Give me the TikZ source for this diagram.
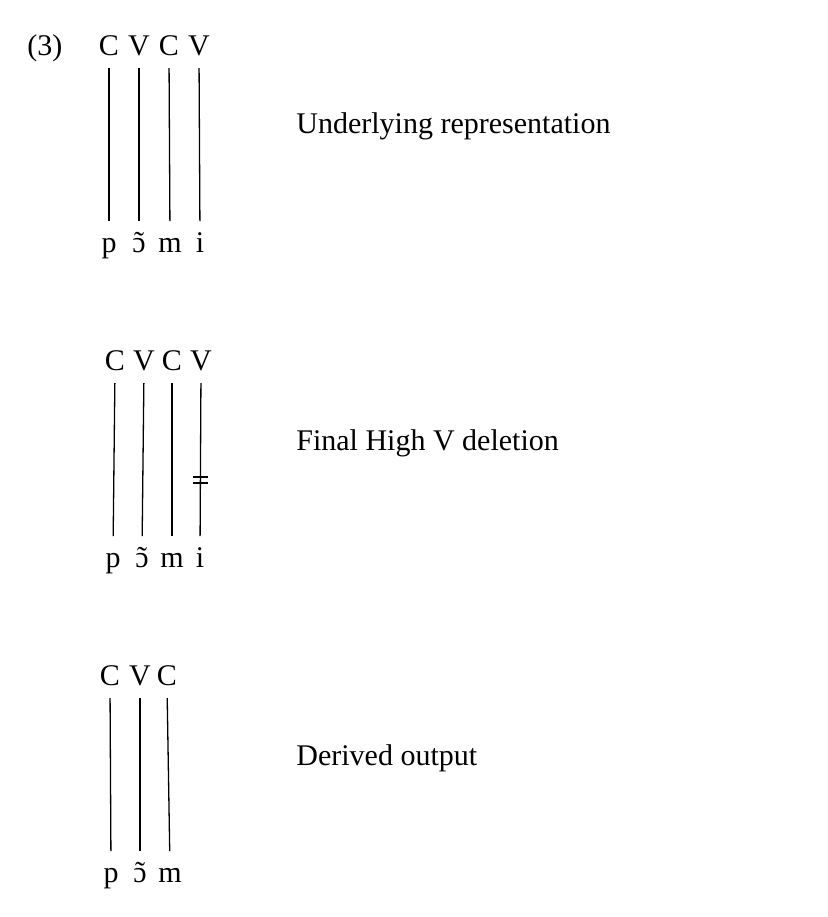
\documentclass[tikz,border=0pt]{standalone}
\usepackage{fontspec}
\setmainfont{Liberation Serif}
\newcommand{\otil}{\ooalign{ɔ\cr\hidewidth ˜\hidewidth\cr}}
\begin{document}
\begin{tikzpicture}[x=0.5pt,y=-0.5pt,
  seg/.style={anchor=base,inner sep=0pt,outer sep=0pt,text depth=0pt},
  mel/.style={anchor=base,inner sep=0pt,outer sep=0pt,text height=7pt},
  assoc/.style={line width=0.65pt,shorten <=6.5pt,shorten >=8.5pt},
  label/.style={anchor=base west,inner sep=0pt}]
  \useasboundingbox (0,0) rectangle (827,917);
  \fontsize{15}{18}\selectfont

  % Underlying representation
  \node[label] (ex) at (27,55) {(3)};
  \foreach \x/\t/\n in {109/C/a1,139/V/b1,169/C/c1,199/V/d1} {
    \node[seg] (\n) at (\x,55) {\t};
  }
  \foreach \x/\t/\n in {109/p/p1,139/\otil/o1,170/m/m1,200/i/i1} {
    \node[mel] (\n) at (\x,252) {\t};
  }
  \draw[assoc] (a1.south) -- (p1.north);
  \draw[assoc] (b1.south) -- (o1.north);
  \draw[assoc] (c1.south) -- (m1.north);
  \draw[assoc] (d1.south) -- (i1.north);
  \node[label] (ur) at (296,133) {Underlying representation};

  % Final High V deletion
  \foreach \x/\t/\n in {115/C/a2,144/V/b2,172/C/c2,201/V/d2} {
    \node[seg] (\n) at (\x,370) {\t};
  }
  \foreach \x/\t/\n in {113/p/p2,142/\otil/o2,172/m/m2,200/i/i2} {
    \node[mel] (\n) at (\x,567) {\t};
  }
  \draw[assoc] (a2.south) -- (p2.north);
  \draw[assoc] (b2.south) -- (o2.north);
  \draw[assoc] (c2.south) -- (m2.north);
  \draw[assoc] (d2.south) -- (i2.north);
  % delinking mark
  \draw[line width=0.6pt] (193,477) -- (208,477) (193,483) -- (208,483);
  \node[label] (fhv) at (296,450) {Final High V deletion};

  % Derived output
  \foreach \x/\t/\n in {110/C/a3,140/V/b3,167/C/c3} {
    \node[seg] (\n) at (\x,685) {\t};
  }
  \foreach \x/\t/\n in {111/p/p3,140/\otil/o3,170/m/m3} {
    \node[mel] (\n) at (\x,882) {\t};
  }
  \draw[assoc] (a3.south) -- (p3.north);
  \draw[assoc] (b3.south) -- (o3.north);
  \draw[assoc] (c3.south) -- (m3.north);
  \node[label] (out) at (296,765) {Derived output};
\end{tikzpicture}
\end{document}
